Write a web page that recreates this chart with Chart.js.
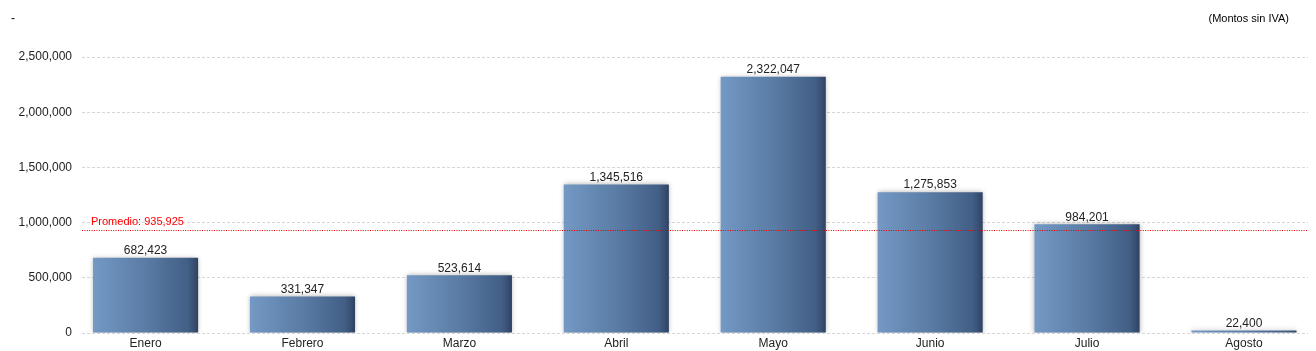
<!DOCTYPE html>
<html>
<head>
<meta charset="utf-8">
<script src="https://cdn.jsdelivr.net/npm/chart.js@4/dist/chart.umd.min.js"></script>
<style>
  html, body { margin: 0; padding: 0; background: #fff; overflow: hidden; }
  #wrap { position: relative; width: 1316px; height: 351px; }
  .note { position: absolute; font-family: "Liberation Sans", Arial, sans-serif; color: #000; white-space: nowrap; }
  #dash { left: 11px; top: 11px; font-size: 12px; }
  #iva { right: 27px; top: 12px; font-size: 11px; }
</style>
</head>
<body>
<div id="wrap">
  <canvas id="chart" width="1316" height="351"></canvas>
  <div class="note" id="dash">-</div>
  <div class="note" id="iva">(Montos sin IVA)</div>
</div>
<script>
// Monthly amounts
const months = ['Enero', 'Febrero', 'Marzo', 'Abril', 'Mayo', 'Junio', 'Julio', 'Agosto'];
const amounts = [682423, 331347, 523614, 1345516, 2322047, 1275853, 984201, 22400];
const yTicks = [0, 500000, 1000000, 1500000, 2000000, 2500000];

const average = amounts.reduce((a, b) => a + b, 0) / amounts.length;
const fmt = v => Math.round(v).toLocaleString('en-US');
const FONT = '"Liberation Sans", Arial, sans-serif';
const BAR_PCT = 0.67;

// horizontal light-to-dark gradient, one per bar
function barGradient(context) {
  const chart = context.chart;
  const x = chart.scales && chart.scales.x;
  if (context.dataIndex === undefined || !x) return '#5a7ca5';
  const step = x.getPixelForValue(1) - x.getPixelForValue(0);
  const w = step * BAR_PCT;
  const left = x.getPixelForValue(context.dataIndex) - w / 2;
  if (!isFinite(left) || !isFinite(w) || w <= 0) return '#5a7ca5';
  const g = chart.ctx.createLinearGradient(left, 0, left + w, 0);
  g.addColorStop(0, '#7399c4');
  g.addColorStop(0.5, '#5a7ca5');
  g.addColorStop(0.9, '#425f86');
  g.addColorStop(0.96, '#384f73');
  g.addColorStop(1, '#2c4262');
  return g;
}

// soft shadow round the bars, value labels and the average line
const barExtras = {
  id: 'barExtras',
  beforeDatasetsDraw(chart) {
    const ctx = chart.ctx;
    ctx.save();
    ctx.shadowColor = 'rgba(0,0,0,0.3)';
    ctx.shadowBlur = 5;
    ctx.shadowOffsetX = 0;
    ctx.shadowOffsetY = 0;
  },
  afterDatasetsDraw(chart) {
    const ctx = chart.ctx;
    ctx.restore();

    ctx.save();
    ctx.font = '12px ' + FONT;
    ctx.fillStyle = '#222';
    ctx.textAlign = 'center';
    ctx.textBaseline = 'bottom';
    chart.getDatasetMeta(0).data.forEach((bar, i) => {
      ctx.fillText(fmt(amounts[i]), bar.x, bar.y - 1);
    });

    const y = chart.scales.y.getPixelForValue(average);
    const area = chart.chartArea;
    ctx.strokeStyle = '#e00000';
    ctx.lineWidth = 1;
    ctx.setLineDash([1, 1.4]);
    ctx.beginPath();
    ctx.moveTo(area.left, Math.round(y) + 0.5);
    ctx.lineTo(area.right, Math.round(y) + 0.5);
    ctx.stroke();
    ctx.setLineDash([]);
    ctx.font = '11px ' + FONT;
    ctx.fillStyle = '#ff0000';
    ctx.textAlign = 'left';
    ctx.textBaseline = 'bottom';
    ctx.fillText('Promedio: ' + fmt(average), area.left + 9, y - 2);
    ctx.restore();
  }
};

new Chart(document.getElementById('chart'), {
  type: 'bar',
  data: {
    labels: months,
    datasets: [{
      data: amounts,
      backgroundColor: barGradient,
      borderWidth: 0,
      categoryPercentage: 1,
      barPercentage: BAR_PCT
    }]
  },
  options: {
    responsive: false,
    animation: false,
    layout: { padding: { top: 57, right: 8, bottom: 0, left: 0 } },
    plugins: { legend: { display: false }, tooltip: { enabled: false } },
    scales: {
      x: {
        grid: { display: false, drawTicks: false },
        border: { display: false },
        ticks: { color: '#222', font: { family: FONT, size: 12 }, padding: 3 },
        afterFit(scale) { scale.height = 18; },
        // stretch the category band so the grid runs slightly inside the outer bars
        afterBuildTicks(scale) {
          scale._startValue = -0.405;
          scale._valueRange = 7.813;
        }
      },
      y: {
        min: 0,
        max: 2500000,
        afterBuildTicks(scale) { scale.ticks = yTicks.map(v => ({ value: v })); },
        afterFit(scale) { scale.width = 82; },
        grid: { color: '#d6d6d6', drawTicks: false },
        border: { display: false, dash: [3, 2] },
        ticks: {
          color: '#222',
          padding: 10,
          font: { family: FONT, size: 12 },
          callback: v => fmt(v)
        }
      }
    }
  },
  plugins: [barExtras]
});
</script>
</body>
</html>
